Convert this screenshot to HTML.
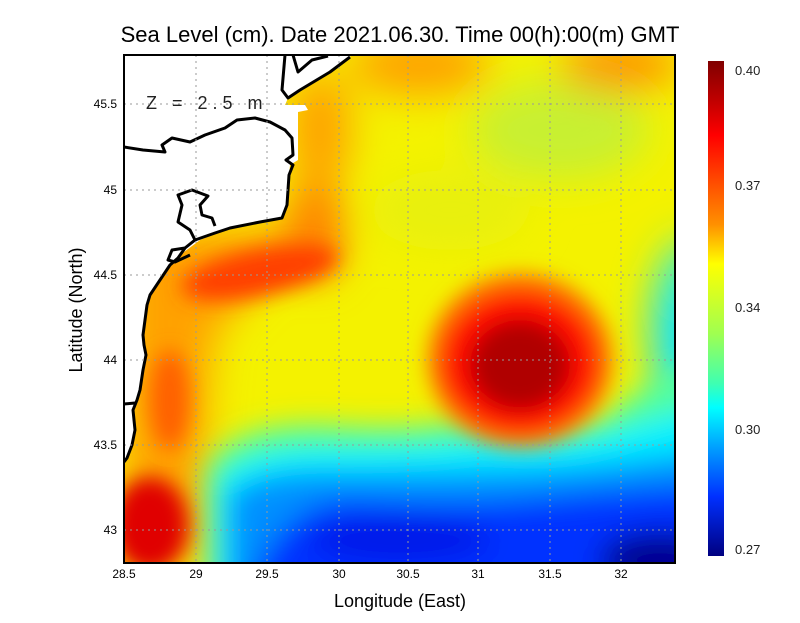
<!DOCTYPE html>
<html><head><style>
body{margin:0;background:#fff;}
svg text{font-family:"Liberation Sans",sans-serif;}
</style></head><body>
<svg width="800" height="618" viewBox="0 0 800 618" xmlns="http://www.w3.org/2000/svg">
<defs>
<filter id="b1" x="-50%" y="-50%" width="200%" height="200%"><feGaussianBlur stdDeviation="20"/></filter>
<filter id="b3" x="-50%" y="-50%" width="200%" height="200%"><feGaussianBlur stdDeviation="14"/></filter>
<filter id="b2" x="-50%" y="-50%" width="200%" height="200%"><feGaussianBlur stdDeviation="10"/></filter>
<clipPath id="pc"><rect x="124" y="55" width="551" height="508"/></clipPath>
<linearGradient id="cb" x1="0" y1="0" x2="0" y2="1">
<stop offset="0" stop-color="#800000"/><stop offset="0.08" stop-color="#c00000"/>
<stop offset="0.15" stop-color="#ff0000"/><stop offset="0.25" stop-color="#ff5000"/>
<stop offset="0.33" stop-color="#ff9000"/><stop offset="0.41" stop-color="#ffff00"/>
<stop offset="0.55" stop-color="#a0ff50"/><stop offset="0.65" stop-color="#40ffb0"/>
<stop offset="0.7" stop-color="#00ffff"/><stop offset="0.78" stop-color="#00a0ff"/>
<stop offset="0.88" stop-color="#0030ff"/><stop offset="1" stop-color="#000080"/>
</linearGradient>
</defs>
<text x="400" y="42" text-anchor="middle" font-size="22">Sea Level (cm). Date 2021.06.30. Time 00(h):00(m) GMT</text>
<g clip-path="url(#pc)">
<rect x="124" y="55" width="551" height="508" fill="#f4f200"/>
<g filter="url(#b1)">
<ellipse cx="560" cy="130" rx="90" ry="50" fill="#c8f030"/>
<ellipse cx="450" cy="210" rx="80" ry="40" fill="#e8f010"/>
<ellipse cx="420" cy="65" rx="70" ry="30" fill="#ffa000"/>
<ellipse cx="620" cy="65" rx="60" ry="25" fill="#ff9000"/>
<ellipse cx="690" cy="330" rx="40" ry="90" fill="#30f0d0"/>
<ellipse cx="680" cy="340" rx="20" ry="50" fill="#00e0ff"/>
<path d="M124 230 L300 230 Q250 300 215 330 Q200 420 205 563 L124 563 Z" fill="#ffa000"/>
<ellipse cx="320" cy="130" rx="30" ry="60" fill="#ffa000"/>
<ellipse cx="315" cy="230" rx="30" ry="50" fill="#ff8000"/>
</g>
<g filter="url(#b3)">
<path d="M205 600 L205 470 Q230 420 330 425 Q420 430 460 420 Q520 440 600 420 Q650 380 680 370 L720 370 L720 600 Z" fill="#50ffa0"/>
<path d="M215 600 L215 480 Q250 445 340 448 Q440 448 480 440 Q560 450 620 430 L720 400 L720 600 Z" fill="#00f0ff"/>
<path d="M228 600 L228 495 Q260 468 340 472 Q440 472 500 470 Q580 470 720 450 L720 600 Z" fill="#0090ff"/>
<path d="M245 600 Q280 495 360 500 Q450 505 520 500 Q620 490 720 485 L720 600 Z" fill="#0030ff"/>
<ellipse cx="400" cy="540" rx="90" ry="22" fill="#0018e8"/>
<ellipse cx="660" cy="560" rx="60" ry="28" fill="#000090"/>
</g>
<g filter="url(#b2)">
<ellipse cx="260" cy="272" rx="80" ry="24" fill="#ff4000" transform="rotate(-12 260 272)"/>
<ellipse cx="170" cy="400" rx="20" ry="50" fill="#ff6000"/>
<ellipse cx="150" cy="525" rx="38" ry="48" fill="#e00000"/>
<ellipse cx="520" cy="360" rx="92" ry="86" fill="#ff7000"/>
<ellipse cx="520" cy="362" rx="78" ry="70" fill="#ff1000"/>
<ellipse cx="520" cy="365" rx="50" ry="45" fill="#b00000"/>
</g>
<path d="M124 55 L352 55 L330 72 L300 90 L288 98 L285 105 L305 105 L308 110 L298 112 L298 160 L290 165 L289 175 L287 205 L282 218 L260 222 L230 228 L200 240 L180 255 L170 265 L160 280 L150 295 L145 320 L144 345 L146 355 L143 370 L140 390 L137 400 L133 410 L135 430 L132 445 L127 458 L124 462 Z" fill="#fff"/>
<g fill="none" stroke="#000" stroke-width="3" stroke-linejoin="round">
<path d="M285 55 L282 90 L288 98 L300 90 L330 72 L350 57"/>
<path d="M293 55 L298 72 L312 60 L328 56"/>
<path d="M124 147 L143 150 L165 152 L162 145 L172 138 L190 142 L205 135 L225 128 L237 120 L255 118 L270 122 L285 130 L292 138 L293 155 L286 160 L293 165 L289 175 L287 205 L282 218 L260 222 L230 228 L215 233 L195 240 L185 248 L178 258 L170 265 L160 280 L150 295 L147 305 L145 320 L143 335 L144 345 L146 355 L143 370 L140 390 L137 400 L133 410 L135 430 L132 445 L127 458 L124 462"/>
<path d="M195 240 L190 230 L178 222 L182 205 L178 195 L192 190 L208 196 L200 205 L202 215 L212 218 L215 226"/>
<path d="M185 248 L172 250 L168 260 L175 262 L190 255"/>
<path d="M124 404 L135 403"/>
</g>
</g>
<text x="146" y="109" font-size="18" fill="#222" letter-spacing="5">Z = 2.5 m</text>
<g stroke="#999" stroke-width="1" stroke-dasharray="2,4">
<line x1="196" y1="55" x2="196" y2="563"/><line x1="267" y1="55" x2="267" y2="563"/>
<line x1="339" y1="55" x2="339" y2="563"/><line x1="408" y1="55" x2="408" y2="563"/>
<line x1="478" y1="55" x2="478" y2="563"/><line x1="550" y1="55" x2="550" y2="563"/>
<line x1="621" y1="55" x2="621" y2="563"/>
<line x1="124" y1="104" x2="675" y2="104"/><line x1="124" y1="190" x2="675" y2="190"/>
<line x1="124" y1="275" x2="675" y2="275"/><line x1="124" y1="360" x2="675" y2="360"/>
<line x1="124" y1="445" x2="675" y2="445"/><line x1="124" y1="530" x2="675" y2="530"/>
</g>
<rect x="124" y="55" width="551" height="508" fill="none" stroke="#000" stroke-width="2"/>
<g font-size="12" text-anchor="middle">
<text x="124" y="578">28.5</text><text x="196" y="578">29</text><text x="267" y="578">29.5</text>
<text x="339" y="578">30</text><text x="408" y="578">30.5</text><text x="478" y="578">31</text>
<text x="550" y="578">31.5</text><text x="621" y="578">32</text>
</g>
<g font-size="12" text-anchor="end">
<text x="117" y="108">45.5</text><text x="117" y="194">45</text><text x="117" y="279">44.5</text>
<text x="117" y="364">44</text><text x="117" y="449">43.5</text><text x="117" y="534">43</text>
</g>
<text x="400" y="607" text-anchor="middle" font-size="18">Longitude (East)</text>
<text transform="translate(82 310) rotate(-90)" text-anchor="middle" font-size="18">Latitude (North)</text>
<rect x="708" y="61" width="16" height="495" fill="url(#cb)"/>
<g font-size="13" fill="#222">
<text x="735" y="75">0.40</text><text x="735" y="190">0.37</text><text x="735" y="312">0.34</text>
<text x="735" y="434">0.30</text><text x="735" y="554">0.27</text>
</g>
</svg>
</body></html>
